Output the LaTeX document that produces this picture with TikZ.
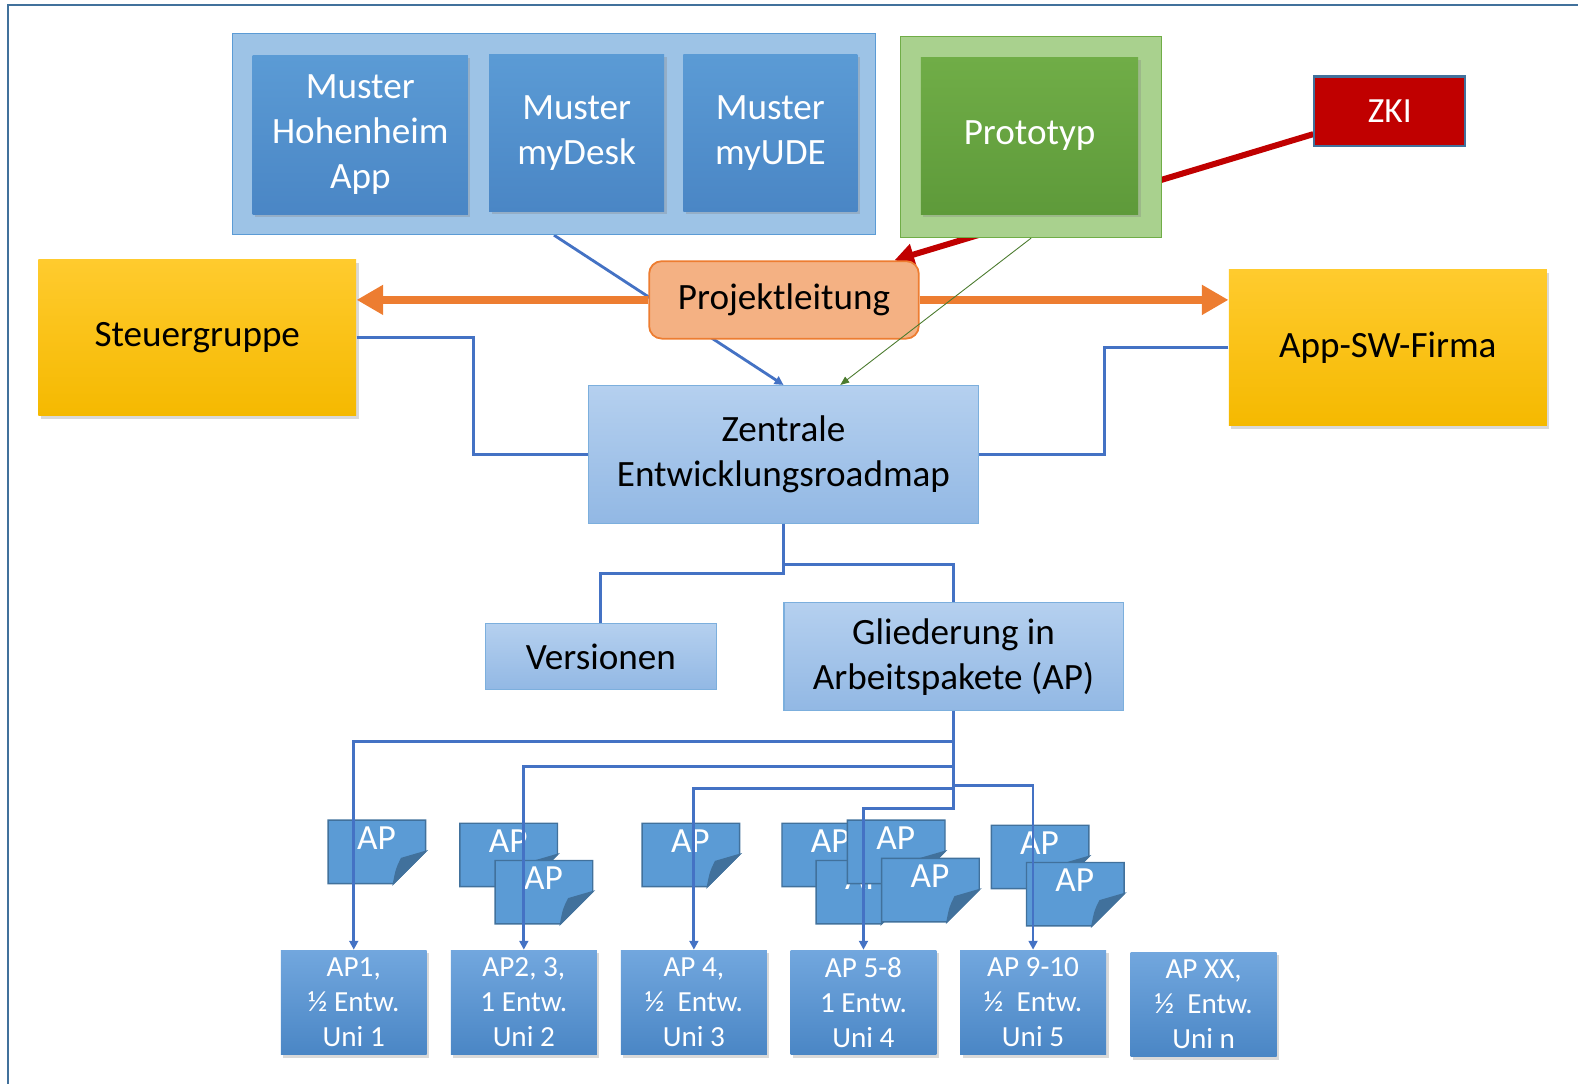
\documentclass[tikz,border=0pt]{standalone}
\usepackage{fontspec}
\setmainfont{Carlito}
\usetikzlibrary{arrows.meta,shadows,backgrounds}

\definecolor{frameblue}{HTML}{41719C}
\definecolor{paleblue}{HTML}{9DC3E6}
\definecolor{midblue}{HTML}{5B9BD5}
\definecolor{darkblue}{HTML}{4A86C5}
\definecolor{lineblue}{HTML}{4472C4}
\definecolor{palegreen}{HTML}{A9D18E}
\definecolor{midgreen}{HTML}{70AD47}
\definecolor{darkgreen}{HTML}{5E9A3A}
\definecolor{zkired}{HTML}{C00000}
\definecolor{salmon}{HTML}{F4B183}
\definecolor{orangeline}{HTML}{ED7D31}
\definecolor{goldtop}{HTML}{FFCB2E}
\definecolor{goldbottom}{HTML}{F5B900}
\definecolor{boxtop}{HTML}{B5D0EF}
\definecolor{boxbottom}{HTML}{92B8E4}
\definecolor{unitop}{HTML}{72A7DE}
\definecolor{apedge}{HTML}{41719C}

\begin{document}
\begin{tikzpicture}[x=0.02cm, y=-0.02cm,
  every node/.style={inner sep=0pt, align=center, font={\fontsize{21pt}{25.5pt}\selectfont}},
  softshadow/.style={drop shadow={opacity=0.3, shadow xshift=0.05cm, shadow yshift=-0.06cm}},
  container/.style={draw=midblue, fill=paleblue, line width=0.8pt},
  muster/.style={softshadow, top color=midblue, bottom color=darkblue, text=white},
  greenframe/.style={draw=midgreen, fill=palegreen, line width=0.8pt},
  greenbox/.style={softshadow, top color=midgreen, bottom color=darkgreen, text=white},
  zkibox/.style={draw=frameblue, fill=zkired, line width=1.2pt, text=white, font={\fontsize{20pt}{24pt}\selectfont}},
  leadbox/.style={draw=orangeline, fill=salmon, line width=1pt, rounded corners=0.25cm},
  goldbox/.style={softshadow, top color=goldtop, bottom color=goldbottom},
  plainbox/.style={draw=midblue!80, top color=boxtop, bottom color=boxbottom, line width=0.6pt},
  unibox/.style={softshadow, top color=unitop, bottom color=darkblue, text=white,
    minimum width=2.9cm, minimum height=2.08cm, font={\fontsize{16.5pt}{19.8pt}\selectfont}},
  blueline/.style={draw=lineblue, line width=1.6pt},
  bluearrow/.style={blueline, -{Triangle[length=5pt, width=5pt]}},
  redarrow/.style={draw=zkired, line width=3.4pt, -{Triangle[length=11pt, width=12pt]}},
  orangearrow/.style={draw=orangeline, line width=4.5pt, -{Triangle[length=15pt, width=16pt]}},
  thinarrow/.style={draw=darkgreen!80!black, line width=0.5pt, -{Triangle[length=5pt, width=4pt]}},
  frameline/.style={draw=frameblue, line width=1.2pt},
  apdoc/.pic={
    \filldraw[fill=midblue, draw=apedge, line width=0.8pt] (0,0) -- (97,0) -- (97,31) -- (65,63) -- (0,63) -- cycle;
    \filldraw[fill=apedge, draw=apedge, line width=0.8pt] (97,31) -- (65,63) .. controls (68,48) .. (73,38) -- cycle;
    \node[text=white, font={\fontsize{20pt}{24pt}\selectfont}] (-t) at (48,18) {AP};
  }]

\useasboundingbox (0,0) rectangle (1568,1077);
\draw[frameline] (8,1077) -- (8,5) -- (1568,5);

\node[container, minimum width=12.78cm, minimum height=4cm] (tplbox) at (550.5,133) {};
\node[muster, minimum width=4.28cm, minimum height=3.16cm] (hohenheim) at (358,134) {Muster\\Hohenheim\\App};
\node[muster, minimum width=3.48cm, minimum height=3.12cm] (mydesk) at (573,132) {Muster\\myDesk};
\node[muster, minimum width=3.46cm, minimum height=3.12cm] (myude) at (765.5,132) {Muster\\myUDE};

\node[greenframe, minimum width=5.18cm, minimum height=4cm] (protoframe) at (1024.5,136) {};
\node[greenbox, minimum width=4.32cm, minimum height=3.12cm] (prototyp) at (1023,135) {Prototyp};
\node[zkibox, minimum width=3cm, minimum height=1.38cm] (zki) at (1381,110.5) {ZKI};

\node[leadbox, minimum width=5.36cm, minimum height=1.54cm] (lead) at (779,298) {Projektleitung};
\node[goldbox, minimum width=6.32cm, minimum height=3.1cm] (steuer) at (196,335.5) {Steuergruppe};
\node[goldbox, minimum width=6.32cm, minimum height=3.1cm] (firma) at (1379,345.5) {App-SW-Firma};

\node[plainbox, minimum width=7.74cm, minimum height=2.74cm] (roadmap) at (778.5,451.5) {Zentrale\\Entwicklungsroadmap};
\node[plainbox, minimum width=4.6cm, minimum height=1.3cm] (versionen) at (597,652.5) {Versionen};
\node[plainbox, minimum width=6.74cm, minimum height=2.14cm] (gliederung) at (947.5,652.5) {Gliederung in\\Arbeitspakete (AP)};

\pic (ap1) at (326,815) {apdoc};
\pic (ap2a) at (457,818) {apdoc};
\pic (ap2b) at (492,855) {apdoc};
\pic (ap3) at (638,818) {apdoc};
\pic (ap4a) at (777,818) {apdoc};
\pic (ap4b) at (811,855) {apdoc};
\pic (ap4c) at (842,815) {apdoc};
\pic (ap4d) at (876,853) {apdoc};
\pic (ap5a) at (985,820) {apdoc};
\pic (ap5b) at (1020,857) {apdoc};

\node[unibox] (uni1) at (351.5,996) {AP1,\\½ Entw.\\Uni 1};
\node[unibox] (uni2) at (520.5,996) {AP2, 3,\\1 Entw.\\Uni 2};
\node[unibox] (uni3) at (689.5,996) {AP 4,\\½~ Entw.\\Uni 3};
\node[unibox] (uni4) at (858,996) {AP 5-8\\1 Entw.\\Uni 4};
\node[unibox] (uni5) at (1026.5,996) {AP 9-10\\½~ Entw.\\Uni 5};
\node[unibox] (unin) at (1196,998) {AP XX,\\½~ Entw.\\Uni n};

\begin{scope}[on background layer]
\draw[bluearrow] (tplbox.south) -- (roadmap.north);
\draw[redarrow] (zki) -- ([xshift=-0.5cm]lead.north east);
\end{scope}

\draw[orangearrow] (lead.west) -- (lead.west -| steuer.east);
\draw[orangearrow] (lead.east) -- (lead.east -| firma.west);
\draw[thinarrow] (protoframe.south) -- ([xshift=1.13cm]roadmap.north);

\draw[blueline] (steuer.east) -- ++(116,0) |- (roadmap.west);
\draw[blueline] (firma.west) -- ++(-123,0) |- (roadmap.east);
\draw[blueline] (roadmap.south) -- ++(0,49) -| (versionen.north);
\draw[blueline] (roadmap.south) -- ++(0,40) -| (gliederung.north);

\draw[bluearrow] (gliederung.south) -- ++(0,30) -| (uni1.north);
\draw[bluearrow] (gliederung.south) -- ++(0,55) -| (uni2.north);
\draw[bluearrow] (gliederung.south) -- ++(0,77) -| (uni3.north);
\draw[bluearrow] (gliederung.south) -- ++(0,97) -| (uni4.north);
\draw[bluearrow] (gliederung.south) -- ++(0,74) -| (uni5.north);

\end{tikzpicture}
\end{document}
